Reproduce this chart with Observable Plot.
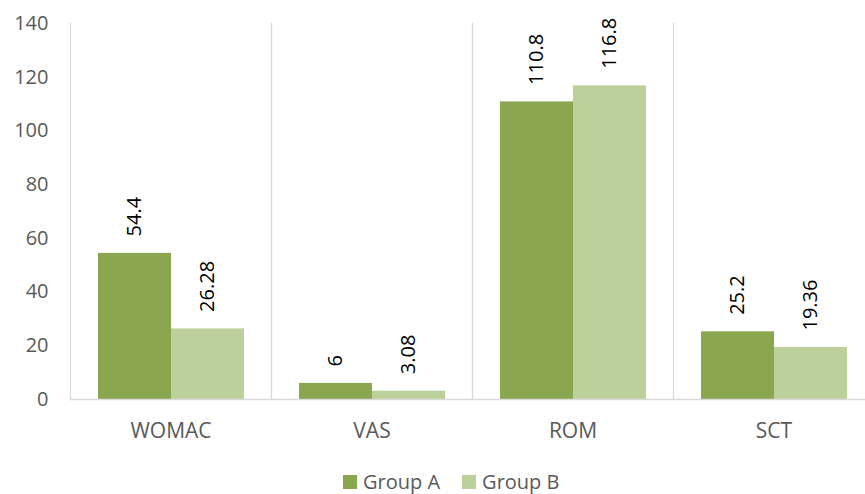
<!DOCTYPE html>
<html>
<head>
<meta charset="utf-8">
<script src="https://cdn.jsdelivr.net/npm/d3@7"></script>
<script src="https://cdn.jsdelivr.net/npm/@observablehq/plot@0.6"></script>
<style>
  html, body { margin: 0; padding: 0; background: #fff; overflow: hidden; }
  #wrap { width: 865px; height: 494px; overflow: hidden; position: relative; font-family: "Open Sans", sans-serif; }
  #chart { width: 875px; }
  #chart svg { display: block; max-width: none !important; width: 875px; height: 455px; }
  #legend { position: absolute; top: 472px; left: 343px; display: flex; align-items: center; font-size: 20px; line-height: 20px; color: #595959; }
  .item { display: flex; align-items: center; margin-right: 22px; }
  .sw { width: 14px; height: 14px; margin-right: 6px; }
</style>
</head>
<body>
<div id="wrap">
  <div id="chart"></div>
  <div id="legend"></div>
</div>
<script>
const categories = ["WOMAC", "VAS", "ROM", "SCT"];
const groups = ["Group A", "Group B"];
const groupA = [54.4, 6, 110.8, 25.2];
const groupB = [26.28, 3.08, 116.8, 19.36];
const colors = ["#8aa64e", "#bbd09a"];
const yTicks = [0, 20, 40, 60, 80, 100, 120, 140];

const data = categories.flatMap((c, i) => [
  {cat: c, group: groups[0], value: groupA[i]},
  {cat: c, group: groups[1], value: groupB[i]}
]);

const chart = Plot.plot({
  width: 875,
  height: 455,
  marginLeft: 68,
  marginRight: 0,
  marginTop: 23,
  marginBottom: 56,
  style: {fontFamily: "'Open Sans', sans-serif", color: "#595959", background: "#fff", maxWidth: "none"},
  fx: {domain: categories, padding: 0, label: null},
  x: {domain: groups, paddingInner: 0, paddingOuter: 0.374, axis: null},
  y: {domain: [0, 140], label: null},
  color: {domain: groups, range: colors},
  marks: [
    Plot.frame({anchor: "left", stroke: "#d9d9d9", strokeWidth: 1.3}),
    Plot.barY(data, {fx: "cat", x: "group", y: "value", fill: "group"}),
    Plot.ruleY([0], {stroke: "#d9d9d9", strokeWidth: 1.5}),
    Plot.text(data, {fx: "cat", x: "group", y: "value", text: d => String(d.value), rotate: -90, textAnchor: "start", dy: -17, fontSize: 20, fill: "#000"}),
    Plot.axisY({ticks: yTicks, tickSize: 0, tickPadding: 22, fontSize: 20, label: null}),
    Plot.axisFx({anchor: "bottom", tickSize: 0, tickPadding: 24, fontSize: 21, label: null})
  ]
});
document.getElementById("chart").appendChild(chart);

const legend = document.getElementById("legend");
groups.forEach((g, i) => {
  const item = document.createElement("div");
  item.className = "item";
  const sw = document.createElement("div");
  sw.className = "sw";
  sw.style.background = colors[i];
  const t = document.createElement("span");
  t.textContent = g;
  item.appendChild(sw);
  item.appendChild(t);
  legend.appendChild(item);
});
</script>
</body>
</html>
